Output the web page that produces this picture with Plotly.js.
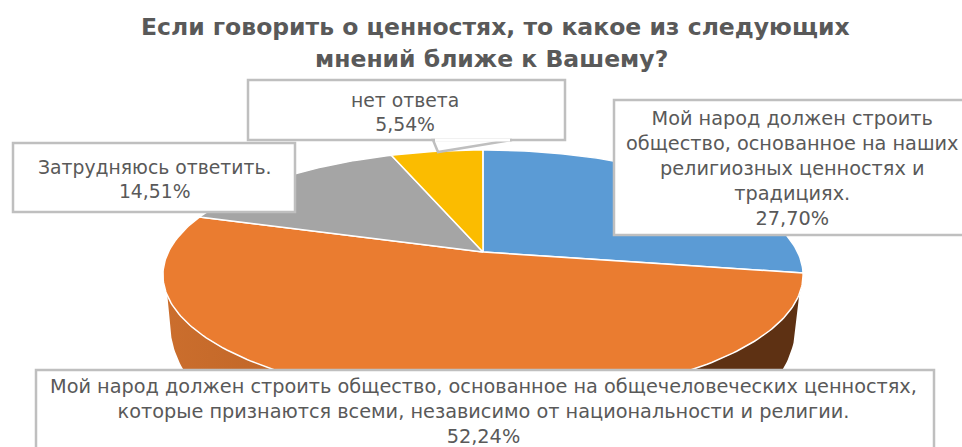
<!DOCTYPE html>
<html><head><meta charset="utf-8">
<script src="https://cdn.plot.ly/plotly-3.0.1.min.js"></script>
<style>html,body{margin:0;padding:0;background:#fff;overflow:hidden}</style>
</head><body><div id="chart" style="width:962px;height:447px"></div>
<script>
const categories = [
  "Мой народ должен строить общество, основанное на наших религиозных ценностях и традициях.",
  "Мой народ должен строить общество, основанное на общечеловеческих ценностях, которые признаются всеми, независимо от национальности и религии.",
  "Затрудняюсь ответить.",
  "нет ответа"
];
const shares = [27.70, 52.24, 14.51, 5.54];
const shareLabels = ["27,70%", "52,24%", "14,51%", "5,54%"];
const colors = ["#5b9bd5", "#ea7c30", "#a5a5a5", "#fbbc00"];
const titleLines = ["Если говорить о ценностях, то какое из следующих", "мнений ближе к Вашему?"];
const labelLines = [
  "Мой народ должен строить<br>общество, основанное на наших<br>религиозных ценностях и<br>традициях.",
  "Мой народ должен строить общество, основанное на общечеловеческих ценностях,<br>которые признаются всеми, независимо от национальности и религии.",
  "Затрудняюсь ответить.",
  "нет ответа"
];

// Tilted-disc projection of the pie (pixel-scaled axes)
const cx = 483, cy = 252, A = 314.6, B = 120.8, K = 0.184;
function rim(frac) {
  const t = frac * 2 * Math.PI, u = Math.sin(t), v = Math.cos(t), d = 1 + K * v;
  return [cx + A * u / d, cy - B * v / d];
}
function arc(f0, f1) {
  const n = Math.max(2, Math.ceil((f1 - f0) * 360)), xs = [], ys = [];
  for (let i = 0; i <= n; i++) { const p = rim(f0 + (f1 - f0) * i / n); xs.push(p[0]); ys.push(p[1]); }
  return [xs, ys];
}
// Side wall: rim arc plus a lower edge
function wall(f0, f1, fill, grad) {
  const [xs, ys] = arc(f0, f1), bx = [], by = [];
  for (let i = xs.length - 1; i >= 0; i--) {
    const t = (f0 + (f1 - f0) * i / (xs.length - 1)) * 2 * Math.PI;
    bx.push(cx + 313 * Math.sin(t)); by.push(322 - 165 * Math.cos(t));
  }
  const tr = {type: "scatter", mode: "lines", x: xs.concat(bx), y: ys.concat(by), fill: "toself",
    line: {width: 0, color: fill}, fillcolor: fill, hoverinfo: "skip", showlegend: false};
  if (grad) tr.fillgradient = grad;
  return tr;
}
const traces = [
  wall(0.27, 0.5, "#5e3113"),
  wall(0.5, 0.735, "#bd6224", {type: "horizontal", colorscale: [[0, "#cb6e2d"], [1, "#b05a20"]]})
];
let acc = 0;
shares.forEach((s, i) => {
  const f0 = acc / 100, f1 = (acc + s) / 100; acc += s;
  const [xs, ys] = arc(f0, f1);
  traces.push({type: "scatter", mode: "lines", x: [cx].concat(xs, [cx]), y: [cy].concat(ys, [cy]),
    fill: "toself", fillcolor: colors[i], line: {color: "#ffffff", width: 1.5},
    name: categories[i], hoverinfo: "name", showlegend: false});
});

const tc = "#595959", fam = "'DejaVu Sans', sans-serif", border = {color: "#bfbfbf", width: 2.5};
const box = (x0, y0, x1, y1) => ({type: "rect", xref: "x", yref: "y", x0, y0, x1, y1,
  fillcolor: "#ffffff", line: border});
const note = (x, y, text, size) => ({xref: "x", yref: "y", x, y, text, showarrow: false,
  xanchor: "center", yanchor: "middle", align: "center", font: {family: fam, size, color: tc}});

const layout = {
  width: 962, height: 447, margin: {l: 0, r: 0, t: 0, b: 0},
  paper_bgcolor: "#ffffff", plot_bgcolor: "#ffffff", showlegend: false,
  xaxis: {range: [0, 962], visible: false, fixedrange: true},
  yaxis: {range: [447, 0], visible: false, fixedrange: true},
  shapes: [
    box(248, 80, 565, 140),
    {type: "path", xref: "x", yref: "y", path: "M 433 140 L 438 152 L 512 140 Z", fillcolor: "#ffffff", line: border},
    {type: "line", xref: "x", yref: "y", x0: 435, y0: 140, x1: 510, y1: 140, line: {color: "#ffffff", width: 3}},
    box(13, 143, 295, 212),
    box(614, 100, 970, 235),
    box(36, 370, 934, 460)
  ],
  annotations: [
    note(495.5, 27, "<b>" + titleLines[0] + "</b>", 23.5),
    note(491, 59, "<b>" + titleLines[1] + "</b>", 23.5),
    note(792, 168, labelLines[0] + "<br>" + shareLabels[0], 19.3),
    note(483, 411, labelLines[1] + "<br>" + shareLabels[1], 19.3),
    note(154, 179, labelLines[2] + "<br>" + shareLabels[2], 18.8),
    note(405, 112, labelLines[3] + "<br>" + shareLabels[3], 18.8)
  ]
};
Plotly.newPlot("chart", traces, layout, {displayModeBar: false, staticPlot: true});
</script></body></html>
